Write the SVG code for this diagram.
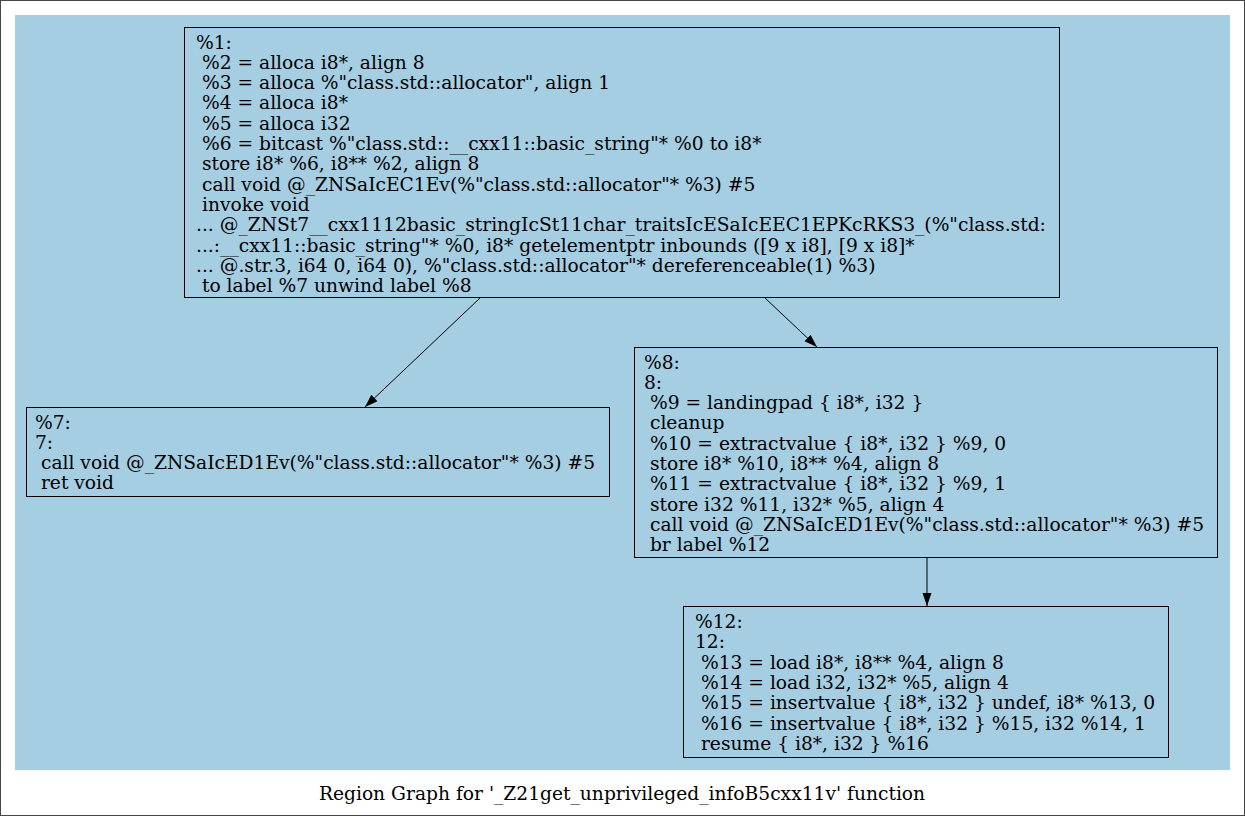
<svg xmlns="http://www.w3.org/2000/svg" width="1245" height="816" viewBox="0 0 1245 816">
<style>
text{font-family:"DejaVu Serif",serif;font-size:18.67px;fill:#000;white-space:pre}
.node rect{fill:none;stroke:#000;stroke-width:1}
.edge line{stroke:#000;stroke-width:1}
</style>
<defs>
<marker id="ah" markerUnits="userSpaceOnUse" markerWidth="14" markerHeight="10" refX="13" refY="4.5" orient="auto">
<path d="M0,0 L13,4.5 L0,9 z" fill="#000"/>
</marker>
</defs>
<rect x="0.5" y="0.5" width="1244" height="815" fill="#fff" stroke="#444"/>
<rect x="15" y="15" width="1215" height="755" fill="#a6cee3"/>
<g id="edges" class="edge">
<line x1="480" y1="298" x2="365" y2="407" marker-end="url(#ah)"/>
<line x1="765" y1="298" x2="817" y2="347" marker-end="url(#ah)"/>
<line x1="927" y1="558" x2="927" y2="606" marker-end="url(#ah)"/>
</g>
<g id="n1" class="node">
<rect x="184.5" y="27.5" width="875" height="270"/>
<text x="196" y="48.5" xml:space="preserve">%1:</text>
<text x="196" y="68.8" xml:space="preserve"> %2 = alloca i8*, align 8</text>
<text x="196" y="89.1" xml:space="preserve"> %3 = alloca %"class.std::allocator", align 1</text>
<text x="196" y="109.4" xml:space="preserve"> %4 = alloca i8*</text>
<text x="196" y="129.7" xml:space="preserve"> %5 = alloca i32</text>
<text x="196" y="150" xml:space="preserve"> %6 = bitcast %"class.std::__cxx11::basic_string"* %0 to i8*</text>
<text x="196" y="170.3" xml:space="preserve"> store i8* %6, i8** %2, align 8</text>
<text x="196" y="190.6" xml:space="preserve"> call void @_ZNSaIcEC1Ev(%"class.std::allocator"* %3) #5</text>
<text x="196" y="210.9" xml:space="preserve"> invoke void</text>
<text x="196" y="231.2" xml:space="preserve">... @_ZNSt7__cxx1112basic_stringIcSt11char_traitsIcESaIcEEC1EPKcRKS3_(%"class.std:</text>
<text x="196" y="251.5" xml:space="preserve">...:__cxx11::basic_string"* %0, i8* getelementptr inbounds ([9 x i8], [9 x i8]*</text>
<text x="196" y="271.8" xml:space="preserve">... @.str.3, i64 0, i64 0), %"class.std::allocator"* dereferenceable(1) %3)</text>
<text x="196" y="292.1" xml:space="preserve"> to label %7 unwind label %8</text>
</g>
<g id="n7" class="node">
<rect x="26.5" y="407.5" width="583" height="89"/>
<text x="35" y="428.5" xml:space="preserve">%7:</text>
<text x="35" y="448.8" xml:space="preserve">7:</text>
<text x="35" y="469.1" xml:space="preserve"> call void @_ZNSaIcED1Ev(%"class.std::allocator"* %3) #5</text>
<text x="35" y="489.4" xml:space="preserve"> ret void</text>
</g>
<g id="n8" class="node">
<rect x="634.5" y="347.5" width="583" height="210"/>
<text x="644" y="368.5" xml:space="preserve">%8:</text>
<text x="644" y="388.8" xml:space="preserve">8:</text>
<text x="644" y="409.1" xml:space="preserve"> %9 = landingpad { i8*, i32 }</text>
<text x="644" y="429.4" xml:space="preserve"> cleanup</text>
<text x="644" y="449.7" xml:space="preserve"> %10 = extractvalue { i8*, i32 } %9, 0</text>
<text x="644" y="470" xml:space="preserve"> store i8* %10, i8** %4, align 8</text>
<text x="644" y="490.3" xml:space="preserve"> %11 = extractvalue { i8*, i32 } %9, 1</text>
<text x="644" y="510.6" xml:space="preserve"> store i32 %11, i32* %5, align 4</text>
<text x="644" y="530.9" xml:space="preserve"> call void @_ZNSaIcED1Ev(%"class.std::allocator"* %3) #5</text>
<text x="644" y="551.2" xml:space="preserve"> br label %12</text>
</g>
<g id="n12" class="node">
<rect x="683.5" y="606.5" width="485" height="151"/>
<text x="695" y="628" xml:space="preserve">%12:</text>
<text x="695" y="648.3" xml:space="preserve">12:</text>
<text x="695" y="668.6" xml:space="preserve"> %13 = load i8*, i8** %4, align 8</text>
<text x="695" y="688.9" xml:space="preserve"> %14 = load i32, i32* %5, align 4</text>
<text x="695" y="709.2" xml:space="preserve"> %15 = insertvalue { i8*, i32 } undef, i8* %13, 0</text>
<text x="695" y="729.5" xml:space="preserve"> %16 = insertvalue { i8*, i32 } %15, i32 %14, 1</text>
<text x="695" y="749.8" xml:space="preserve"> resume { i8*, i32 } %16</text>
</g>
<text x="622" y="800" text-anchor="middle">Region Graph for '_Z21get_unprivileged_infoB5cxx11v' function</text>
</svg>
